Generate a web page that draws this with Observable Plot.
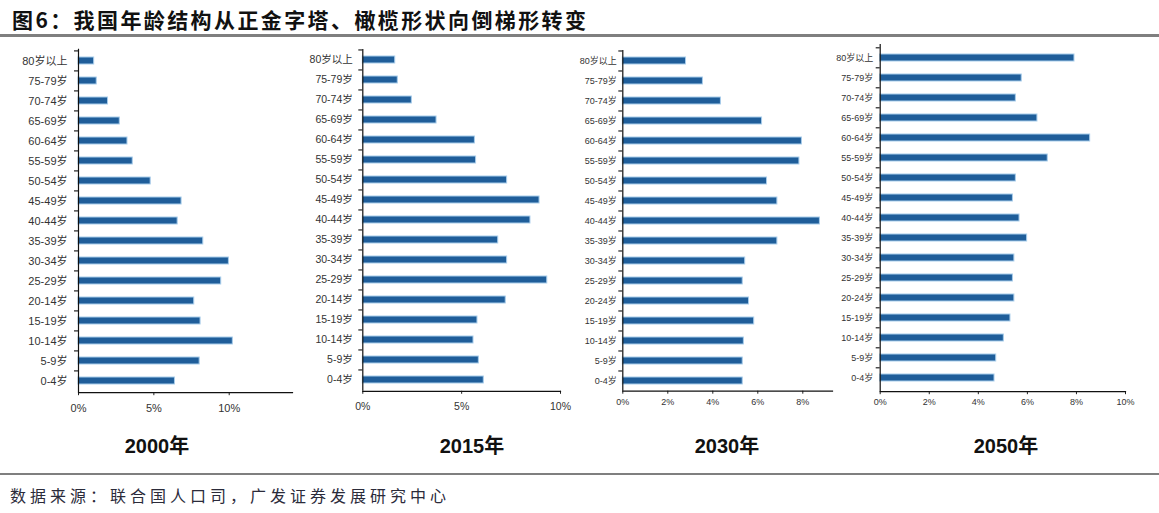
<!DOCTYPE html>
<html>
<head>
<meta charset="utf-8">
<script src="https://cdn.jsdelivr.net/npm/d3@7"></script>
<script src="https://cdn.jsdelivr.net/npm/@observablehq/plot@0.6"></script>
<style>
  html, body { margin: 0; padding: 0; background: #fff; }
  #root { position: relative; width: 1159px; height: 513px; overflow: hidden; font-family: "Liberation Sans", Arial, "Noto Sans CJK SC", sans-serif; }
  .title { position: absolute; left: 12px; top: 6px; font-size: 21px; font-weight: bold; letter-spacing: 2.4px; color: #111; font-family: "Noto Sans CJK SC", sans-serif; line-height: 26px; white-space: nowrap; }
  .rule { position: absolute; left: 0; width: 1159px; background: #7f7f7f; }
  .panel { position: absolute; top: 0; }
  .year { position: absolute; top: 430px; font-size: 20px; font-weight: bold; color: #111; transform: translateX(-50%); white-space: nowrap; font-family: "Liberation Sans Narrow", "Liberation Sans", "Noto Sans CJK SC", sans-serif; }
  .source { position: absolute; left: 10px; top: 483px; font-size: 16px; letter-spacing: 4px; color: #2b2b3a; font-family: "Noto Sans CJK SC", sans-serif; white-space: nowrap; }
</style>
</head>
<body>
<div id="root">
  <div class="title" id="title"></div>
  <div class="rule" style="top:34px;height:3px;"></div>
  <div class="rule" style="top:473px;height:2px;"></div>
  <div class="source" id="source"></div>
</div>
<script>
const titleText = "图6：我国年龄结构从正金字塔、橄榄形状向倒梯形转变";
const sourceText = "数据来源：联合国人口司，广发证券发展研究中心";
const years = ["2000年", "2015年", "2030年", "2050年"];
const agesEarly = ["80岁以上","75-79岁","70-74岁","65-69岁","60-64岁","55-59岁","50-54岁","45-49岁","40-44岁","35-39岁","30-34岁","25-29岁","20-14岁","15-19岁","10-14岁","5-9岁","0-4岁"];
const agesLate = ["80岁以上","75-79岁","70-74岁","65-69岁","60-64岁","55-59岁","50-54岁","45-49岁","40-44岁","35-39岁","30-34岁","25-29岁","20-24岁","15-19岁","10-14岁","5-9岁","0-4岁"];
// population share (%) by age group, top to bottom
const share2000 = [1.04,1.21,1.96,2.74,3.25,3.60,4.79,6.84,6.58,8.28,9.98,9.47,7.68,8.10,10.24,8.04,6.40];
const share2015 = [1.64,1.77,2.48,3.73,5.67,5.73,7.30,8.94,8.48,6.85,7.30,9.33,7.23,5.80,5.60,5.87,6.12];
const share2030 = [2.81,3.56,4.36,6.19,7.96,7.85,6.41,6.87,8.76,6.87,5.44,5.33,5.61,5.84,5.38,5.33,5.33];
const share2050 = [7.92,5.77,5.53,6.41,8.56,6.83,5.53,5.41,5.68,5.99,5.47,5.41,5.47,5.31,5.04,4.73,4.66];
const ticksEarly = [0, 0.05, 0.10];
const ticksLate = [0, 0.02, 0.04, 0.06, 0.08, 0.10];

const panels = [
  {year: years[0], ages: agesEarly, values: share2000, ticks: ticksEarly, xmax: 0.142,
   left: 0, marginLeft: 78, axisEnd: 292, marginRight: 10, top: 48.8, bottom: 392.2,
   font: "11px", family: "'Liberation Sans', Arial, 'Noto Sans CJK SC', sans-serif", padY: 11, padX: 8, yearX: 157},
  {year: years[1], ages: agesEarly, values: share2015, ticks: ticksEarly, xmax: 0.10,
   left: 290, marginLeft: 72.3, axisEnd: 560, marginRight: 10, top: 49, bottom: 390.8,
   font: "10.5px", family: "'Liberation Sans', Arial, 'Noto Sans CJK SC', sans-serif", padY: 10, padX: 8, yearX: 472},
  {year: years[2], ages: agesLate, values: share2030, ticks: ticksLate.slice(0, 5), xmax: 0.0932,
   left: 570, marginLeft: 52.3, axisEnd: 832, marginRight: 5, top: 50, bottom: 390.7,
   font: "9px", family: "'Liberation Sans Narrow', 'Liberation Sans', 'Noto Sans CJK SC', sans-serif", padY: 6, padX: 4, yearX: 727},
  {year: years[3], ages: agesLate, values: share2050, ticks: ticksLate, xmax: 0.10,
   left: 820, marginLeft: 59.7, axisEnd: 1125, marginRight: 25, top: 44.1, bottom: 391.2,
   font: "9px", family: "'Liberation Sans Narrow', 'Liberation Sans', 'Noto Sans CJK SC', sans-serif", padY: 7, padX: 4, yearX: 1006}
];

const root = document.getElementById("root");
document.getElementById("title").textContent = titleText;
document.getElementById("source").textContent = sourceText;

for (const p of panels) {
  const data = p.ages.map((a, i) => ({age: a, v: p.values[i] / 100}));
  const height = 425;
  const marginBottom = height - p.bottom;
  const width = p.left === 0 ? p.axisEnd + p.marginRight : (p.axisEnd - p.left) + p.marginRight;
  const step = (p.bottom - p.top) / p.ages.length;
  const chart = Plot.plot({
    width, height,
    marginLeft: p.marginLeft, marginRight: p.marginRight,
    marginTop: p.top, marginBottom,
    style: {fontFamily: p.family, fontSize: p.font, color: "#222", background: "transparent", overflow: "visible"},
    x: {domain: [0, p.xmax]},
    y: {domain: p.ages, paddingInner: 0.64, paddingOuter: 0.32},
    marks: [
      Plot.barX(data, {x: "v", y: "age", fill: "#1f5e9a", stroke: "#a8cdeb", strokeWidth: 1}),
      Plot.axisY({tickSize: 0, tickPadding: p.padY, fill: "#333", label: null}),
      Plot.axisY({tickSize: 4, tickFormat: () => "", dy: -step / 2, stroke: "#222", strokeWidth: 1.2, label: null}),
      Plot.axisX({ticks: p.ticks, tickFormat: d3.format(".0%"), tickSize: 3, tickPadding: p.padX, fill: "#333", stroke: "#222", label: null, line: true}),
      Plot.ruleX([0], {stroke: "#111", strokeWidth: 1.2}),
      Plot.frame({anchor: "bottom", stroke: "#111", strokeWidth: 1.2})
    ]
  });
  const wrap = document.createElement("div");
  wrap.className = "panel";
  wrap.style.left = p.left + "px";
  wrap.appendChild(chart);
  root.appendChild(wrap);

  const y = document.createElement("div");
  y.className = "year";
  y.style.left = p.yearX + "px";
  y.textContent = p.year;
  root.appendChild(y);
}
</script>
</body>
</html>
